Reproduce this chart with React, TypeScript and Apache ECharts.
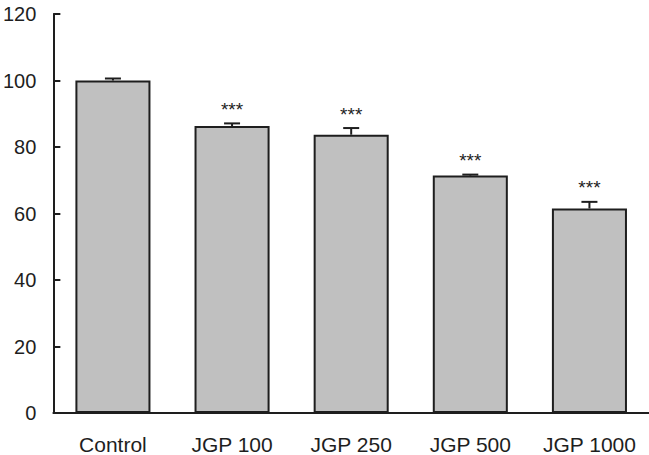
import React, { useEffect, useRef } from "react";
import * as echarts from "echarts";

// Treatment groups and their mean response with standard error
const categories = ["Control", "JGP 100", "JGP 250", "JGP 500", "JGP 1000"];
const means = [100, 86.3, 83.7, 71.4, 61.5];
const errors = [0.6, 0.8, 2.0, 0.3, 2.0];
const significance = ["", "***", "***", "***", "***"];
const yTicks = { min: 0, max: 120, interval: 20 };

const FONT = "'Liberation Sans', Arial, sans-serif";
const INK = "#1e1e1e";

export default function App() {
  const ref = useRef<HTMLDivElement>(null);

  useEffect(() => {
    if (!ref.current) return;
    const chart = echarts.init(ref.current, undefined, { renderer: "svg" });

    const errorData = categories.map((_, i) => [i, means[i], errors[i]]);

    chart.setOption({
      animation: false,
      backgroundColor: "#fff",
      grid: { left: 53, right: -9, top: 14, bottom: 41 },
      xAxis: {
        type: "category",
        data: categories,
        boundaryGap: true,
        axisLine: { lineStyle: { color: INK, width: 2 } },
        axisTick: { inside: true, length: 5, interval: 0, lineStyle: { color: INK, width: 1.5 } },
        axisLabel: { color: INK, fontSize: 21, fontFamily: FONT, margin: 21, interval: 0 },
        splitLine: { show: false },
      },
      yAxis: {
        type: "value",
        min: yTicks.min,
        max: yTicks.max,
        interval: yTicks.interval,
        axisLine: { show: true, lineStyle: { color: INK, width: 2 } },
        axisTick: { show: true, inside: true, length: 7, lineStyle: { color: INK, width: 2 } },
        axisLabel: { color: INK, fontSize: 20, fontFamily: FONT, margin: 17 },
        splitLine: { show: false },
      },
      series: [
        {
          type: "bar",
          data: means,
          barWidth: "63%",
          itemStyle: { color: "#c0c0c0", borderColor: INK, borderWidth: 2 },
          z: 2,
        },
        {
          type: "custom",
          data: errorData,
          encode: { x: 0, y: 1 },
          z: 3,
          renderItem: (params: any, api: any) => {
            const idx = api.value(0);
            const val = api.value(1);
            const err = api.value(2);
            const base = api.coord([idx, val]);
            const top = api.coord([idx, val + err]);
            const children: any[] = [
              {
                type: "line",
                shape: { x1: base[0], y1: base[1], x2: top[0], y2: top[1] },
                style: { stroke: INK, lineWidth: 2 },
              },
              {
                type: "line",
                shape: { x1: top[0] - 8, y1: top[1], x2: top[0] + 8, y2: top[1] },
                style: { stroke: INK, lineWidth: 2 },
              },
            ];
            const mark = significance[idx];
            if (mark) {
              children.push({
                type: "text",
                x: top[0],
                y: top[1] - 14,
                style: {
                  text: mark,
                  align: "center",
                  verticalAlign: "middle",
                  fontSize: 19,
                  fontFamily: FONT,
                  fill: INK,
                },
              });
            }
            return { type: "group", children };
          },
        },
      ],
    });

    return () => chart.dispose();
  }, []);

  return (
    <div
      ref={ref}
      style={{ position: "fixed", left: 0, top: 0, width: 649, height: 455, background: "#fff" }}
    />
  );
}
